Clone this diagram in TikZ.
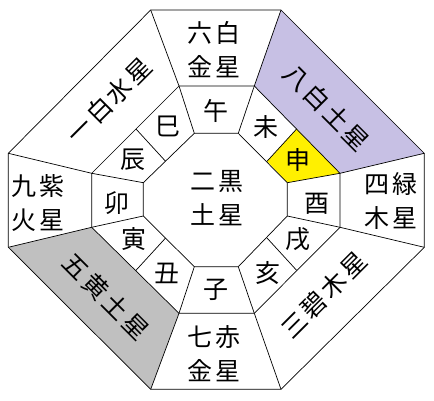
\documentclass[tikz,border=0pt]{standalone}
\usepackage{fontspec}
\newfontfamily\jp{Noto Sans CJK JP}
\begin{document}
\begin{tikzpicture}[x=1pt,y=-1pt,
  edge/.style={draw=black,line width=0.7pt,line join=miter},
  lbl/.style={inner sep=0pt,font=\jp\fontsize{25}{34}\selectfont,align=center},
  sign/.style={inner sep=0pt,font=\jp\fontsize{25}{30}\selectfont}]
\useasboundingbox (0,0) rectangle (434,401);
% outer octagon
\coordinate (O1) at (150.7,10);
\coordinate (O2) at (281,10);
\coordinate (O3) at (424.3,153.3);
\coordinate (O4) at (424.3,247.3);
\coordinate (O5) at (281,389.3);
\coordinate (O6) at (150.7,389.3);
\coordinate (O7) at (8.3,247.3);
\coordinate (O8) at (8.3,153.3);
% middle octagon
\coordinate (M1) at (179,86);
\coordinate (M2) at (254.3,86);
\coordinate (M3) at (340,173.3);
\coordinate (M4) at (340,227.3);
\coordinate (M5) at (254.3,313.3);
\coordinate (M6) at (179,313.3);
\coordinate (M7) at (91.7,227.3);
\coordinate (M8) at (91.7,173.3);
% inner octagon
\coordinate (I1) at (194.3,133.3);
\coordinate (I2) at (238.3,133.3);
\coordinate (I3) at (287.3,182.7);
\coordinate (I4) at (287.3,216);
\coordinate (I5) at (238.3,266.7);
\coordinate (I6) at (194.3,266.7);
\coordinate (I7) at (143.3,216);
\coordinate (I8) at (143.3,182.7);
% split points
\coordinate (SUa) at (136,129);
\coordinate (SUb) at (165.5,161.2);
\coordinate (SRa) at (296.6,129);
\coordinate (SRb) at (267.1,161.2);
\coordinate (SLa) at (136,270.3);
\coordinate (SLb) at (165.5,238.1);
\coordinate (SDa) at (296.6,270.3);
\coordinate (SDb) at (267.1,238.1);
% fills
\fill[fill={rgb,255:red,199;green,192;blue,228}] (O2) -- (O3) -- (M3) -- (M2) -- cycle;
\fill[fill={rgb,255:red,192;green,192;blue,192}] (O7) -- (O6) -- (M6) -- (M7) -- cycle;
\fill[fill={rgb,255:red,255;green,240;blue,0}] (SRa) -- (M3) -- (I3) -- (SRb) -- cycle;
% outlines
\draw[edge] (O1) -- (O2) -- (O3) -- (O4) -- (O5) -- (O6) -- (O7) -- (O8) -- cycle;
\draw[edge] (M1) -- (M2) -- (M3) -- (M4) -- (M5) -- (M6) -- (M7) -- (M8) -- cycle;
\draw[edge] (I1) -- (I2) -- (I3) -- (I4) -- (I5) -- (I6) -- (I7) -- (I8) -- cycle;
\foreach \k in {1,...,8}{\draw[edge] (O\k) -- (M\k); \draw[edge] (M\k) -- (I\k);}
\draw[edge] (SUa) -- (SUb);
\draw[edge] (SRa) -- (SRb);
\draw[edge] (SLa) -- (SLb);
\draw[edge] (SDa) -- (SDb);
% outer labels
\node[lbl] (t6) at (214,50) {六\kern3pt白\\金\kern3pt星};
\node[lbl] (t7) at (214,354) {七\kern3pt赤\\金\kern3pt星};
\node[lbl] (t9) at (38.5,203.5) {九\kern3pt紫\\火\kern3pt星};
\node[lbl] (t4) at (391,200.5) {四\kern3pt緑\\木\kern3pt星};
\node[lbl] (t2) at (216.5,198.5) {二\kern3pt黒\\土\kern3pt星};
\node[lbl,rotate=45] (t1) at (109,100.5) {一\kern3pt白\kern3pt水\kern3pt星};
\node[lbl,rotate=-45] (t8) at (326.7,107.5) {八\kern3pt白\kern3pt土\kern3pt星};
\node[lbl,rotate=-45] (t5) at (106,296.7) {五\kern3pt黄\kern3pt土\kern3pt星};
\node[lbl,rotate=45] (t3) at (324,295) {三\kern3pt碧\kern3pt木\kern3pt星};
% zodiac labels
\node[sign] (uma) at (215.8,110.8) {午};
\node[sign] (hitsuji) at (265.8,127.5) {未};
\node[sign] (saru) at (298.3,160) {申};
\node[sign] (tori) at (316.7,203.3) {酉};
\node[sign] (inu) at (298.3,239) {戌};
\node[sign] (i) at (267.5,273.3) {亥};
\node[sign] (ne) at (215.8,290) {子};
\node[sign] (ushi) at (166.7,273.3) {丑};
\node[sign] (tora) at (134,239) {寅};
\node[sign] (u) at (116.7,203.3) {卯};
\node[sign] (tatsu) at (133.3,160) {辰};
\node[sign] (mi) at (168.3,126.7) {巳};
\end{tikzpicture}
\end{document}
